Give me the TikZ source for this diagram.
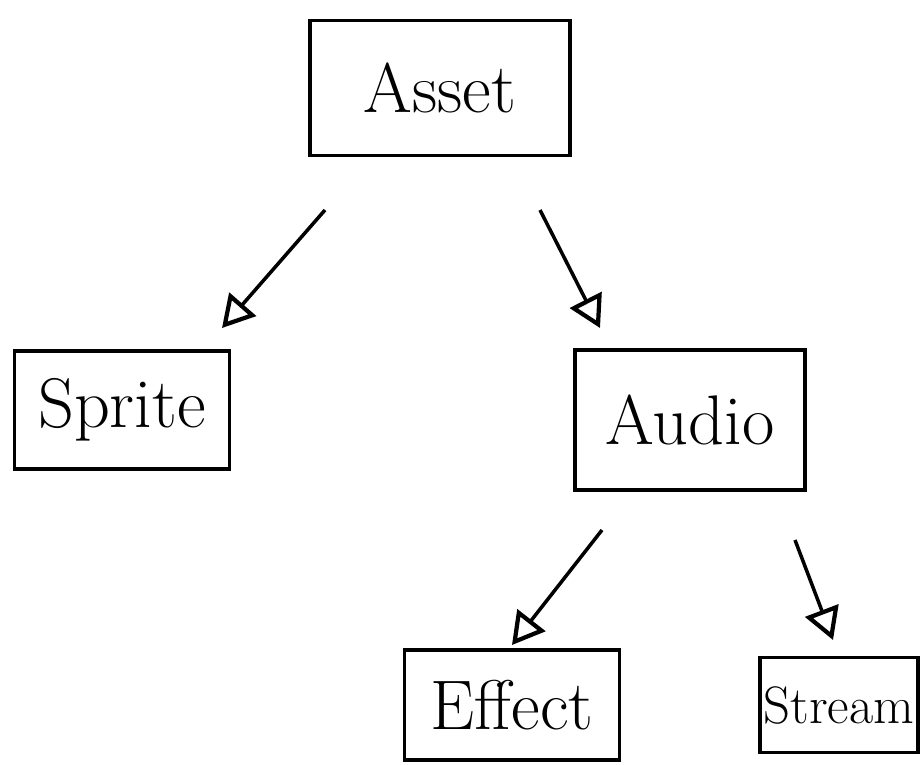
\documentclass[tikz,border=0pt]{standalone}
\usetikzlibrary{arrows.meta}
\begin{document}
\begin{tikzpicture}[x=0.02cm,y=-0.02cm,
  cls/.style={draw, line width=2.2pt, rectangle, font=\fontsize{40}{44}\selectfont, inner sep=0pt},
  inh/.style={line width=2pt, -{Triangle[open, length=18pt, width=20pt, line width=2.4pt]}}]
\useasboundingbox (0,0) rectangle (922,764);
\node[cls, minimum width=260*0.02cm, minimum height=135*0.02cm] (asset) at (440,88) {Asset};
\node[cls, minimum width=215*0.02cm, minimum height=118*0.02cm] (sprite) at (122,410) {Sprite};
\node[cls, minimum width=230*0.02cm, minimum height=140*0.02cm] (audio) at (690,420) {Audio};
\node[cls, minimum width=215*0.02cm, minimum height=110*0.02cm] (effect) at (512,705) {Effect};
\node[cls, font=\fontsize{30}{34}\selectfont, minimum width=158*0.02cm, minimum height=95*0.02cm] (stream) at (839,705) {Stream};
\coordinate (a1s) at (325,210);
\coordinate (a1e) at (222,328);
\coordinate (a2s) at (540,210);
\coordinate (a2e) at (600,328);
\coordinate (a3s) at (602,530);
\coordinate (a3e) at (512,645);
\coordinate (a4s) at (795,540);
\coordinate (a4e) at (833,640);
\draw[inh] (a1s) -- (a1e);
\draw[inh] (a2s) -- (a2e);
\draw[inh] (a3s) -- (a3e);
\draw[inh] (a4s) -- (a4e);
\end{tikzpicture}
\end{document}
